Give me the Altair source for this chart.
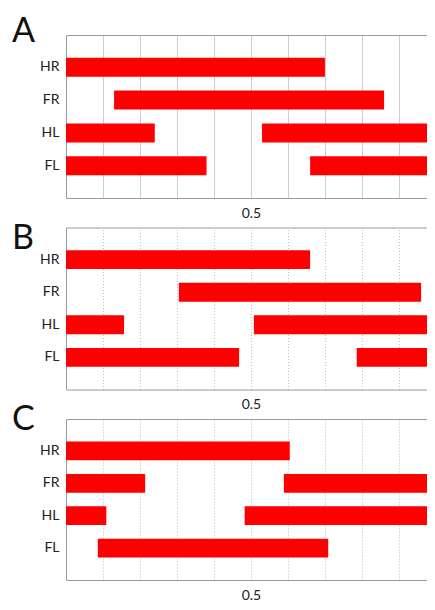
import altair as alt
import pandas as pd

panel_letters = ["A", "B", "C"]
limbs = ["HR", "FR", "HL", "FL"]

# stance segments (fraction of cycle)
a_limb = ["HR", "FR", "HL", "HL", "FL", "FL"]
a_start = [0.00, 0.13, 0.00, 0.53, 0.00, 0.66]
a_end = [0.70, 0.86, 0.24, 1.00, 0.38, 1.00]

b_limb = ["HR", "FR", "HL", "HL", "FL", "FL"]
b_start = [0.00, 0.305, 0.00, 0.508, 0.00, 0.786]
b_end = [0.66, 0.96, 0.157, 1.00, 0.468, 1.00]

c_limb = ["HR", "FR", "FR", "HL", "HL", "FL"]
c_start = [0.00, 0.00, 0.589, 0.00, 0.483, 0.086]
c_end = [0.605, 0.214, 1.00, 0.109, 1.00, 0.709]

grid_ticks = [0.1, 0.2, 0.3, 0.4, 0.5, 0.6, 0.7, 0.8, 0.9]
labeled_tick = 0.5

FONT = "Lato"
BORDER = "#9a9a9a"
# the original figure is cropped just at the end of the cycle; show the same window
X_DOMAIN = [0, 0.976]


def panel(letter, limb, start, end, height, dash, letter_y):
    df = pd.DataFrame({"limb": limb, "start": start, "end": end})
    xscale = alt.Scale(domain=X_DOMAIN, nice=False, zero=False)
    yenc = alt.Y(
        "limb:N",
        sort=limbs,
        scale=alt.Scale(paddingInner=0.42, paddingOuter=0.695),
        axis=alt.Axis(
            domain=True,
            domainColor=BORDER,
            ticks=False,
            title=None,
            labelFontSize=14,
            labelPadding=7,
            labelFont=FONT,
            labelColor="#222222",
        ),
    )
    bars = alt.Chart(df).mark_bar(color="#ff0000", clip=True).encode(
        x=alt.X(
            "start:Q",
            scale=xscale,
            axis=alt.Axis(
                values=grid_ticks,
                labelExpr=f"datum.value == {labeled_tick} ? '{labeled_tick}' : ''",
                grid=True,
                gridDash=dash,
                gridColor="#bdbdbd",
                domain=True,
                domainColor=BORDER,
                ticks=False,
                title=None,
                labelFontSize=14,
                labelPadding=19,
                labelBaseline="alphabetic",
                labelFont=FONT,
                labelColor="#222222",
            ),
        ),
        x2="end:Q",
        y=yenc,
    )
    top_border = alt.Chart(df).mark_bar(opacity=0, clip=True).encode(
        x=alt.X(
            "start:Q",
            scale=xscale,
            axis=alt.Axis(
                orient="top",
                labels=False,
                ticks=False,
                grid=False,
                domain=True,
                domainColor=BORDER,
                title=None,
            ),
        ),
        x2="end:Q",
        y=alt.Y("limb:N", sort=limbs),
    )
    lab = alt.Chart(pd.DataFrame({"t": [letter]})).mark_text(
        align="left", baseline="top", fontSize=34, font=FONT, color="#111111"
    ).encode(text="t:N", x=alt.value(-54), y=alt.value(letter_y))
    return (
        alt.layer(bars, top_border, lab)
        .resolve_axis(x="independent")
        .properties(width=361, height=height)
    )


pA = panel(panel_letters[0], a_limb, a_start, a_end, 163, [1, 0], -20)
pB = panel(panel_letters[1], b_limb, b_start, b_end, 162, [1, 2], -6)
pC = panel(panel_letters[2], c_limb, c_start, c_end, 161, [1, 2], -16)

chart = alt.vconcat(pA, pB, pC, spacing=29.5, bounds="flush").configure(
    padding={"left": 4, "top": 7, "right": 0, "bottom": 0}
).configure_view(stroke=None)

chart.save("out.html", embed_options={"renderer": "svg", "actions": False})
